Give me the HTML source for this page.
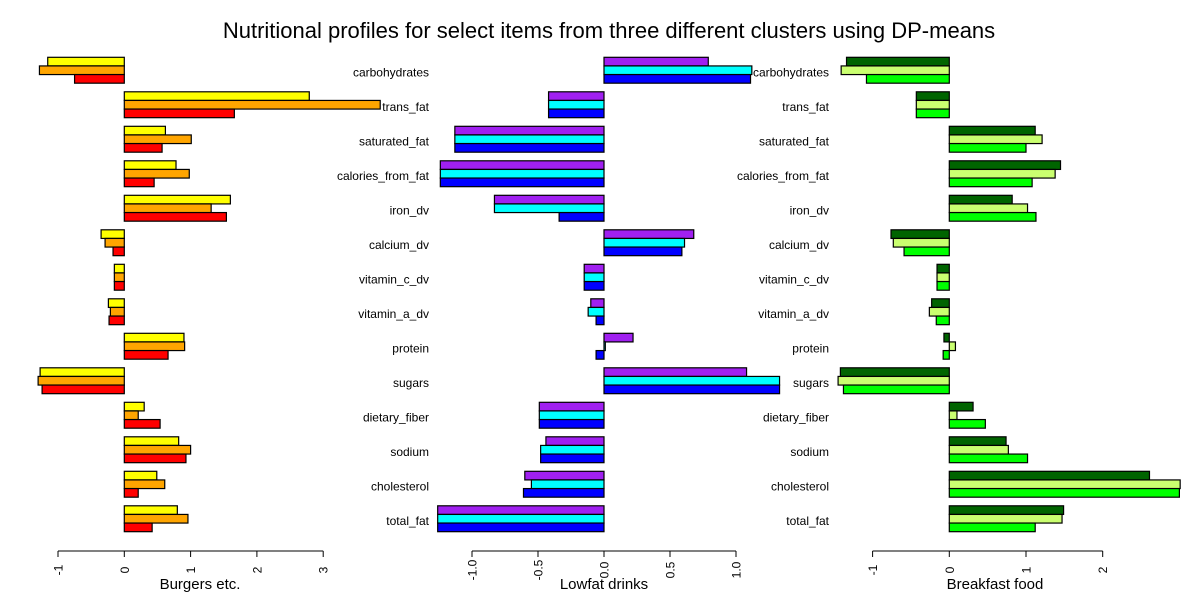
<!DOCTYPE html>
<html><head><meta charset="utf-8"><style>
body{margin:0;background:#fff;}
svg{display:block;font-family:"Liberation Sans",Arial,sans-serif;}
</style></head><body>
<svg id="chart" width="1200" height="600" viewBox="0 0 1200 600" xmlns="http://www.w3.org/2000/svg">
<rect width="1200" height="600" fill="#fff"/>
<text x="609" y="38" font-size="22" text-anchor="middle">Nutritional profiles for select items from three different clusters using DP-means</text>
</svg>
<script>
const categories = ["carbohydrates","trans_fat","saturated_fat","calories_from_fat","iron_dv","calcium_dv","vitamin_c_dv","vitamin_a_dv","protein","sugars","dietary_fiber","sodium","cholesterol","total_fat"];
const burgersA = [-1.155,2.79,0.62,0.78,1.60,-0.35,-0.15,-0.24,0.90,-1.27,0.30,0.82,0.49,0.80];
const burgersB = [-1.28,3.86,1.01,0.98,1.31,-0.29,-0.15,-0.21,0.91,-1.30,0.21,1.00,0.61,0.96];
const burgersC = [-0.75,1.66,0.57,0.45,1.54,-0.17,-0.15,-0.23,0.66,-1.24,0.54,0.93,0.21,0.42];
const drinksA = [0.79,-0.42,-1.13,-1.24,-0.83,0.68,-0.15,-0.10,0.22,1.08,-0.49,-0.44,-0.60,-1.26];
const drinksB = [1.12,-0.42,-1.13,-1.24,-0.83,0.61,-0.15,-0.12,0.01,1.33,-0.49,-0.48,-0.55,-1.26];
const drinksC = [1.11,-0.42,-1.13,-1.24,-0.34,0.59,-0.15,-0.06,-0.06,1.33,-0.49,-0.48,-0.61,-1.26];
const breakfastA = [-1.34,-0.43,1.12,1.45,0.82,-0.76,-0.16,-0.23,-0.07,-1.42,0.31,0.74,2.61,1.49];
const breakfastB = [-1.41,-0.43,1.21,1.38,1.02,-0.73,-0.16,-0.26,0.08,-1.45,0.10,0.77,3.01,1.47];
const breakfastC = [-1.08,-0.43,1.00,1.08,1.13,-0.59,-0.16,-0.17,-0.08,-1.38,0.47,1.02,3.00,1.12];
const ticks1 = [-1,0,1,2,3];
const ticks2 = [-1.0,-0.5,0.0,0.5,1.0];
const ticks3 = [-1,0,1,2];
const tickLabels2 = ["-1.0","-0.5","0.0","0.5","1.0"];

const NS="http://www.w3.org/2000/svg";
const svg=document.getElementById('chart');
function mk(tag,attrs,parent){const e=document.createElementNS(NS,tag);for(const k in attrs)e.setAttribute(k,attrs[k]);(parent||svg).appendChild(e);return e;}
const panels=[
 {key:"burgers",series:[burgersA,burgersB,burgersC],colors:["#ffff00","#ffa500","#ff0000"],zero:124.3,scale:66.3,ticks:ticks1,labels:ticks1.map(String),title:"Burgers etc.",titleX:200,labelX:429},
 {key:"drinks",series:[drinksA,drinksB,drinksC],colors:["#a020f0","#00ffff","#0000ff"],zero:604,scale:132,ticks:ticks2,labels:tickLabels2,title:"Lowfat drinks",titleX:604,labelX:829},
 {key:"breakfast",series:[breakfastA,breakfastB,breakfastC],colors:["#006400","#caff70","#00ff00"],zero:949.3,scale:76.7,ticks:ticks3,labels:ticks3.map(String),title:"Breakfast food",titleX:995,labelX:829}
];
const top0=57.3,pitch=34.5,bh=8.63;
function yPos(i,j){return top0+i*pitch+j*bh;}
panels.forEach((p,pi)=>{
 const g=mk('g',{});
 
 
 const x=v=>p.zero+v*p.scale;
 categories.forEach((c,i)=>{
  if(pi<2){
   const t=mk('text',{x:p.labelX,y:yPos(i,1)+bh/2+6.5,'font-size':12,'text-anchor':'end'},g);
   t.textContent=c;
   
   
  }
  p.series.forEach((s,j)=>{
   const v=s[i];const x0=Math.min(x(0),x(v));const w=Math.abs(x(v)-x(0));
   const r=mk('rect',{x:x0,y:yPos(i,j),width:Math.max(w,0.5),height:bh,fill:p.colors[j],stroke:'#000','stroke-width':1.2},g);
   
   
  });
 });
 const ax=mk('g',{},g);
 
 
 const ay=551;
 mk('line',{x1:x(p.ticks[0]),x2:x(p.ticks[p.ticks.length-1]),y1:ay,y2:ay,stroke:'#000','stroke-width':1},ax);
 p.ticks.forEach((t,k)=>{
  mk('line',{x1:x(t),x2:x(t),y1:ay,y2:ay+6,stroke:'#000','stroke-width':1},ax);
  const tx=mk('text',{x:0,y:0,'font-size':12,'text-anchor':'middle',transform:`translate(${x(t)+4.5},${ay+19}) rotate(-90)`},ax);
  tx.textContent=p.labels[k];
  
  
 });
 const tt=mk('text',{x:p.titleX,y:589,'font-size':15,'text-anchor':'middle'},g);
 tt.textContent=p.title;
 
 
});
</script>
</body></html>
